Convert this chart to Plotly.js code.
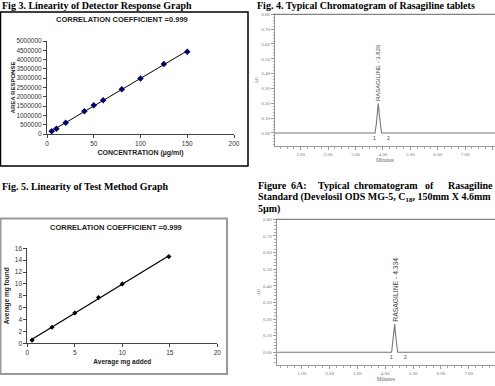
<!DOCTYPE html>
<html><head><meta charset="utf-8">
<script src="https://cdn.plot.ly/plotly-3.0.1.min.js"></script>
<style>html,body{margin:0;padding:0;background:#fff}#chart{width:495px;height:386px}</style>
</head><body><div id="chart"></div>
<script>
// ---- Fig 3: Linearity of detector response ----
const detConc = [5, 10, 20, 40, 50, 60, 80, 100, 125, 150];
const detArea = [150000, 280000, 600000, 1220000, 1550000, 1820000, 2400000, 2990000, 3760000, 4420000];
const detXTicks = [0, 50, 100, 150, 200];
const detYTicks = [0, 500000, 1000000, 1500000, 2000000, 2500000, 3000000, 3500000, 4000000, 4500000, 5000000];
// ---- Fig 5: Linearity of test method ----
const mgAdded = [0.5, 2.6, 5.0, 7.5, 10.0, 14.9];
const mgFound = [0.55, 2.7, 5.1, 7.7, 10.0, 14.6];
const addXTicks = [0, 5, 10, 15, 20];
const foundYTicks = [0, 2, 4, 6, 8, 10, 12, 14, 16];
// ---- Fig 4: chromatogram of tablets ----
const tabTime = [0.06, 3.71, 3.76, 3.80, 3.83, 3.87, 3.91, 3.95, 8.1];
const tabAU   = [0, 0, 0.06, 0.17, 0.20, 0.12, 0.03, 0, 0];
const tabPeak = {time: 3.83, au: 0.20, label: 'RASAGILINE - 3.826'};
// ---- Fig 6A: chromatogram of standard ----
const stdTime = [0.1, 4.23, 4.27, 4.31, 4.34, 4.37, 4.41, 4.45, 7.95];
const stdAU   = [0, 0, 0.06, 0.15, 0.17, 0.11, 0.03, 0, 0];
const stdPeak = {time: 4.34, au: 0.17, label: 'RASAGILINE - 4.334'};
const auTicks = [0, 0.1, 0.2, 0.3, 0.4, 0.5, 0.6, 0.7, 0.8];
const minTicks = [1, 2, 3, 4, 5, 6, 7, 8];

const W = 495, H = 386;
const px = x => x / W, py = y => 1 - y / H;
function fit(xs, ys) {
  const n = xs.length, mx = xs.reduce((a, b) => a + b) / n, my = ys.reduce((a, b) => a + b) / n;
  let sxy = 0, sxx = 0;
  for (let i = 0; i < n; i++) { sxy += (xs[i] - mx) * (ys[i] - my); sxx += (xs[i] - mx) ** 2; }
  const m = sxy / sxx; return {m, b: my - m * mx};
}
const f1 = fit(detConc, detArea), f3 = fit(mgAdded, mgFound);
const x1 = [Math.min(...detConc), Math.max(...detConc)];
const x3 = [Math.min(...mgAdded), Math.max(...mgAdded)];

const sans = 'Liberation Sans, Arial, sans-serif';
const serif = 'Liberation Serif, Times New Roman, serif';

const data = [
  {x: x1, y: x1.map(v => f1.m * v + f1.b), mode: 'lines', line: {color: '#000', width: 1}, xaxis: 'x', yaxis: 'y', hoverinfo: 'skip'},
  {x: detConc, y: detArea, mode: 'markers', marker: {symbol: 'diamond', size: 5, color: '#000066'}, xaxis: 'x', yaxis: 'y'},
  {x: tabTime, y: tabAU, mode: 'lines', line: {color: '#777', width: 1.1}, xaxis: 'x2', yaxis: 'y2'},
  {x: x3, y: x3.map(v => f3.m * v + f3.b), mode: 'lines', line: {color: '#000', width: 1.3}, xaxis: 'x3', yaxis: 'y3', hoverinfo: 'skip'},
  {x: mgAdded, y: mgFound, mode: 'markers', marker: {symbol: 'diamond', size: 4, color: '#000'}, xaxis: 'x3', yaxis: 'y3'},
  {x: stdTime, y: stdAU, mode: 'lines', line: {color: '#777', width: 1.1}, xaxis: 'x4', yaxis: 'y4'}
];

const xlsAxis = (extra) => Object.assign({
  showgrid: false, zeroline: false, showline: true, linecolor: '#444', linewidth: 1,
  ticks: 'outside', ticklen: 3, tickcolor: '#444',
  tickfont: {family: sans, size: 6.5, color: '#333'}, fixedrange: true
}, extra);
const chromAxis = (extra) => Object.assign({
  showgrid: false, zeroline: false, showline: true, linecolor: '#999', linewidth: 1,
  ticks: 'outside', ticklen: 3, tickcolor: '#999', tickformat: '.2f',
  tickfont: {family: serif, size: 5, color: '#777'}, fixedrange: true
}, extra);

const ann = [];
function txt(t, x, y, o) {
  ann.push(Object.assign({text: t, x: px(x), y: py(y), xref: 'paper', yref: 'paper', showarrow: false,
    xanchor: 'left', yanchor: 'middle', font: {family: serif, size: 10, color: '#000', weight: 'bold'}}, o || {}));
}
// Figure captions
txt('Fig 3. Linearity of Detector Response Graph', 0, 5);
txt('Fig. 4. Typical Chromatogram of Rasagiline tablets', 255, 5);
txt('Fig. 5. Linearity of Test Method Graph', 0, 187);
[['Figure', 255.5], ['6A:', 289], ['Typical', 315.5], ['chromatogram', 352]]
  .forEach(w => txt(w[0], w[1], 186));
txt('of', 423, 186);
txt('Rasagiline', 495, 186, {xanchor: 'right'});
txt('Standard (Develosil ODS MG-5, C<sub>18</sub>, 150mm X 4.6mm', 255.5, 197);
txt('5µm)', 255.5, 209);
// chart headings
const hfont = {family: sans, size: 7.5, color: '#222', weight: 'bold'};
txt('CORRELATION COEFFICIENT =0.999', 122, 20, {xanchor: 'center', font: hfont});
txt('CORRELATION COEFFICIENT =0.999', 116, 227, {xanchor: 'center', font: hfont});
// peak labels
[[tabPeak, 'x2', 'y2', 6], [stdPeak, 'x4', 'y4', 6.8]].forEach(([p, xa, ya, fs]) => {
  ann.push({text: p.label, x: p.time, y: p.au, xref: xa, yref: ya, showarrow: false, textangle: -90,
    xanchor: 'center', yanchor: 'bottom', font: {family: sans, size: fs, color: '#444'}});
  ann.push({text: '1', x: p.time - 0.13, y: 0, xref: xa, yref: ya, showarrow: false, yanchor: 'top',
    font: {family: sans, size: 5, color: '#444'}});
  ann.push({text: '2', x: p.time + 0.38, y: 0, xref: xa, yref: ya, showarrow: false, yanchor: 'top',
    font: {family: sans, size: 5, color: '#444'}});
});

const shapes = [
  {type: 'rect', xref: 'paper', yref: 'paper', x0: px(0.5), x1: px(248), y0: py(12), y1: py(166), line: {color: '#000', width: 1.5}},
  {type: 'rect', xref: 'paper', yref: 'paper', x0: px(0.5), x1: px(227), y0: py(218.5), y1: py(374), line: {color: '#999', width: 2}},
  {type: 'line', xref: 'paper', yref: 'paper', x0: px(273), x1: 1, y0: py(14.3), y1: py(14.3), line: {color: '#666', width: 1}},
  {type: 'line', xref: 'paper', yref: 'paper', x0: px(276), x1: 1, y0: py(219.3), y1: py(219.3), line: {color: '#666', width: 1}}
];

const layout = {
  width: W, height: H, margin: {l: 0, r: 0, t: 0, b: 0},
  paper_bgcolor: '#fff', plot_bgcolor: 'rgba(0,0,0,0)', showlegend: false,
  annotations: ann, shapes: shapes,
  xaxis: xlsAxis({domain: [px(47), px(234)], range: [0, 200], tickvals: detXTicks, anchor: 'y',
    title: {text: 'CONCENTRATION (µg/ml)', font: {family: sans, size: 7, color: '#222', weight: 'bold'}, standoff: 4}}),
  yaxis: xlsAxis({domain: [py(134), py(41)], range: [0, 5000000], tickvals: detYTicks, tickformat: 'd', anchor: 'x',
    title: {text: 'AREA RESPONSE', font: {family: sans, size: 6, color: '#222', weight: 'bold'}, standoff: 0}}),
  xaxis2: chromAxis({domain: [px(275), 1], range: [0.062, 8.09], tickvals: minTicks, anchor: 'y2',
    minor: {dtick: 0.25, ticklen: 2, tickcolor: '#aaa', ticks: 'outside'},
    title: {text: 'Minutes', font: {family: serif, size: 5.5, color: '#666'}, standoff: 0}}),
  yaxis2: chromAxis({domain: [py(146), py(14.3)], range: [-0.088, 0.8], tickvals: auTicks, anchor: 'x2',
    minor: {dtick: 0.02, ticklen: 1.5, tickcolor: '#aaa', ticks: 'outside'},
    title: {text: 'AU', font: {family: serif, size: 5, color: '#666'}, standoff: 2}}),
  xaxis3: xlsAxis({domain: [px(27.3), px(217.3)], range: [0, 20], tickvals: addXTicks, anchor: 'y3',
    title: {text: 'Average mg added', font: {family: sans, size: 6.5, color: '#222', weight: 'bold'}, standoff: 4}}),
  yaxis3: xlsAxis({domain: [py(343.3), py(248.3)], range: [0, 16], tickvals: foundYTicks, anchor: 'x3',
    title: {text: 'Average mg found', font: {family: sans, size: 6.5, color: '#222', weight: 'bold'}, standoff: 4}}),
  xaxis4: chromAxis({domain: [px(276.7), 1], range: [0.097, 7.95], tickvals: minTicks, anchor: 'y4',
    minor: {dtick: 0.25, ticklen: 2, tickcolor: '#aaa', ticks: 'outside'},
    title: {text: 'Minutes', font: {family: serif, size: 5.5, color: '#666'}, standoff: 0}}),
  yaxis4: chromAxis({domain: [py(365), py(219.3)], range: [-0.0764, 0.8], tickvals: auTicks, anchor: 'x4',
    minor: {dtick: 0.02, ticklen: 1.5, tickcolor: '#aaa', ticks: 'outside'},
    title: {text: 'AU', font: {family: serif, size: 5, color: '#666'}, standoff: 2}})
};
Plotly.newPlot('chart', data, layout, {displayModeBar: false, staticPlot: true});
</script>
</body></html>
